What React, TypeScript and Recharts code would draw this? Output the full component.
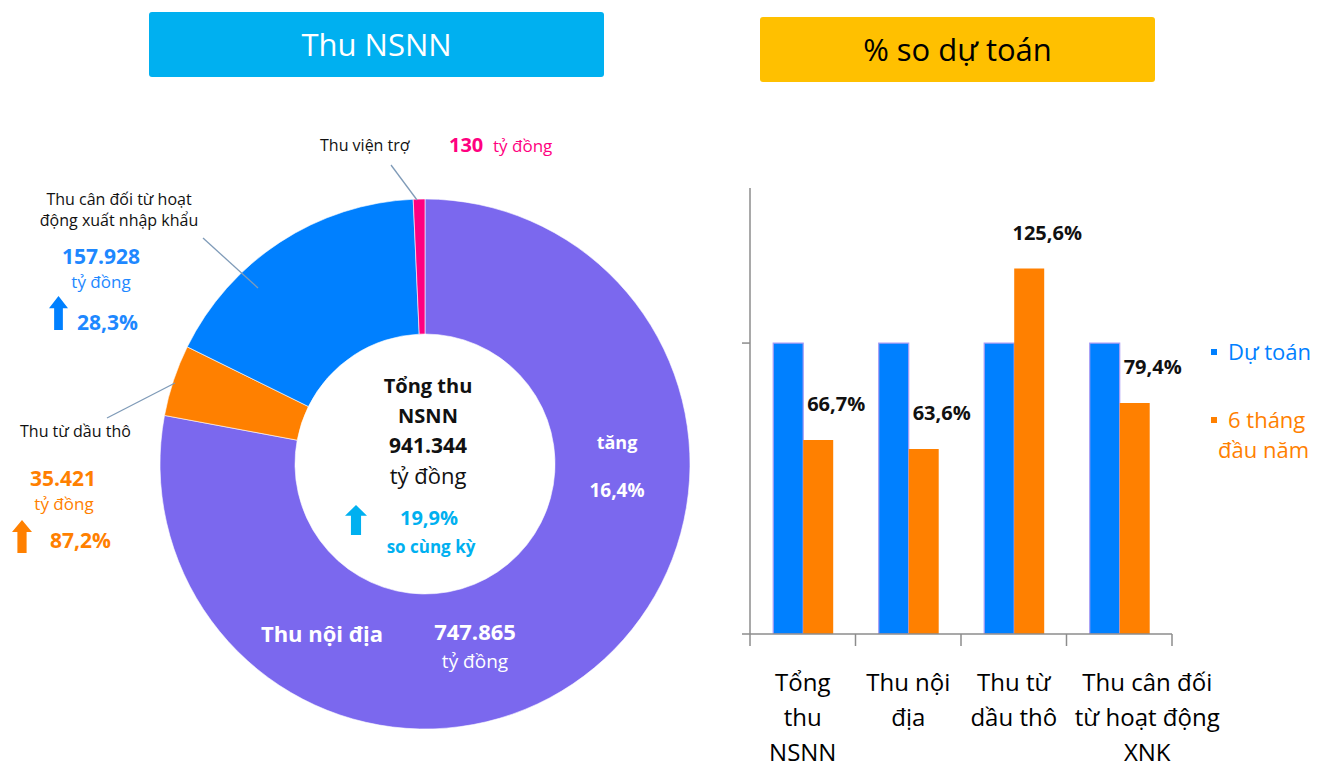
import React from "react";
import {
  PieChart,
  Pie,
  Cell,
  BarChart,
  Bar,
  XAxis,
  YAxis,
  LabelList,
} from "recharts";

// ---------- Data ----------
const SLICE_NAMES = [
  "Thu nội địa",
  "Thu từ dầu thô",
  "Thu cân đối từ hoạt động xuất nhập khẩu",
  "Thu viện trợ",
];
const SLICE_VALUES = [747865, 35421, 157928, 130];
const SLICE_COLORS = ["#7B68EE", "#FF8000", "#0080FF", "#FF0080"];

const BAR_CATEGORIES = [
  "Tổng thu NSNN",
  "Thu nội địa",
  "Thu từ dầu thô",
  "Thu cân đối từ hoạt động XNK",
];
const TICK_LINES = [
  ["Tổng", "thu", "NSNN"],
  ["Thu nội", "địa"],
  ["Thu từ", "dầu thô"],
  ["Thu cân đối", "từ hoạt động", "XNK"],
];
const DU_TOAN = [100, 100, 100, 100];
const SAU_THANG = [66.7, 63.6, 125.6, 79.4];
const SERIES_NAMES = ["Dự toán", "6 tháng\nđầu năm"];
const Y_TICKS = [0, 100];

// ---------- Styles ----------
const FONT = "'Open Sans', 'Noto Sans', sans-serif";
const BLUE = "#0080FF";
const ORANGE = "#FF8000";
const CYAN = "#00B0F0";
const PINK = "#FF0080";
const AXIS = "#8c8c8c";
const LEADER = "#7f9bb8";
const TICK_SHIFT = [0, 0, 0, 28];
const SERIES_COLORS = [BLUE, ORANGE];

const pieData = SLICE_NAMES.map((name, i) => ({
  name,
  value: SLICE_VALUES[i],
  color: SLICE_COLORS[i],
}));

const barData = BAR_CATEGORIES.map((name, i) => ({
  name,
  duToan: DU_TOAN[i],
  sauThang: SAU_THANG[i],
}));

const fmtPct = (v: number) => v.toFixed(1).replace(".", ",") + "%";

const BAR_LEFT = 750;
const BAR_RIGHT_EDGE = 1172;
const Y_AXIS_W = 10;
const HALF_BAND = (BAR_RIGHT_EDGE - BAR_LEFT) / BAR_CATEGORIES.length / 2;

function UpArrow({ x, y, w, h, color }: { x: number; y: number; w: number; h: number; color: string }) {
  const headH = h * 0.36;
  const sw = w * 0.46;
  const cx = x + w / 2;
  const d = `M ${cx} ${y} L ${x + w} ${y + headH} L ${cx + sw / 2} ${y + headH} L ${cx + sw / 2} ${y + h} L ${cx - sw / 2} ${y + h} L ${cx - sw / 2} ${y + headH} L ${x} ${y + headH} Z`;
  return <path d={d} fill={color} />;
}

const XTick = (props: any) => {
  const { x, y, payload, index } = props;
  const lines = TICK_LINES[index] || [payload.value];
  const shift = TICK_SHIFT[index] || 0;
  return (
    <g>
      <line x1={x - HALF_BAND} y1={y - 8} x2={x - HALF_BAND} y2={y + 4} stroke={AXIS} strokeWidth={1.5} />
      {index === BAR_CATEGORIES.length - 1 && (
        <line x1={x + HALF_BAND} y1={y - 8} x2={x + HALF_BAND} y2={y + 4} stroke={AXIS} strokeWidth={1.5} />
      )}
      <text x={x + shift} y={y + 49} textAnchor="middle" fontFamily={FONT} fontSize={24} fill="#000">
        {lines.map((l: string, i: number) => (
          <tspan key={i} x={x + shift} dy={i === 0 ? 0 : 35}>
            {l}
          </tspan>
        ))}
      </text>
    </g>
  );
};

const BarValueLabel = (props: any) => {
  const { x, y, width, value } = props;
  return (
    <text
      x={x + width / 2 + 18}
      y={y - 29}
      textAnchor="middle"
      fontFamily={FONT}
      fontSize={20}
      fontWeight={700}
      fill="#111"
    >
      {fmtPct(value)}
    </text>
  );
};

function SeriesLegend() {
  return (
    <div
      style={{
        position: "absolute",
        left: 1211,
        top: 336,
        fontFamily: FONT,
        fontSize: 22,
        lineHeight: "30px",
      }}
    >
      {SERIES_NAMES.map((name, i) => {
        const lines = name.split("\n");
        return (
          <div
            key={i}
            style={{ color: SERIES_COLORS[i], marginBottom: i === 0 ? 38 : 0, position: "relative", paddingLeft: 17 }}
          >
            <span
              style={{
                position: "absolute",
                left: 0,
                top: 13,
                width: 6,
                height: 6,
                background: SERIES_COLORS[i],
              }}
            />
            {lines.map((l, j) => (
              <div key={j} style={{ marginLeft: j > 0 ? -10 : 0 }}>
                {l}
              </div>
            ))}
          </div>
        );
      })}
    </div>
  );
}

export default function App() {
  return (
    <div
      style={{
        position: "absolute",
        left: 0,
        top: 0,
        width: 1330,
        height: 767,
        background: "#fff",
        overflow: "hidden",
        fontFamily: FONT,
      }}
    >
      {/* Headers */}
      <div
        style={{
          position: "absolute",
          left: 149,
          top: 12,
          width: 455,
          height: 65,
          background: CYAN,
          borderRadius: 3,
          color: "#fff",
          fontSize: 31,
          lineHeight: "65px",
          textAlign: "center",
        }}
      >
        Thu NSNN
      </div>
      <div
        style={{
          position: "absolute",
          left: 760,
          top: 17,
          width: 395,
          height: 65,
          background: "#FFC000",
          borderRadius: 3,
          color: "#000",
          fontSize: 31,
          lineHeight: "65px",
          textAlign: "center",
        }}
      >
        % so dự toán
      </div>

      {/* Donut */}
      <div style={{ position: "absolute", left: 0, top: 0 }}>
        <PieChart width={740} height={767} margin={{ top: 0, right: 0, bottom: 0, left: 0 }}>
          <Pie
            data={pieData}
            dataKey="value"
            nameKey="name"
            cx={425}
            cy={464}
            innerRadius={130}
            outerRadius={265}
            startAngle={90}
            endAngle={-270}
            minAngle={2.5}
            stroke="#fff"
            strokeWidth={0.6}
            isAnimationActive={false}
          >
            {pieData.map((d, i) => (
              <Cell key={i} fill={d.color} />
            ))}
          </Pie>
        </PieChart>
      </div>

      {/* Donut annotations */}
      <svg
        width={740}
        height={767}
        style={{ position: "absolute", left: 0, top: 0, pointerEvents: "none" }}
        fontFamily={FONT}
      >
        <line x1={391} y1={165} x2={417} y2={200} stroke={LEADER} strokeWidth={1.3} />
        <line x1={203} y1={238} x2={258} y2={288} stroke={LEADER} strokeWidth={1.3} />
        <line x1={107} y1={418} x2={175} y2={383} stroke={LEADER} strokeWidth={1.3} />

        <text x={320} y={151} fontSize={16} fill="#111">Thu viện trợ</text>
        <text x={449} y={152} fontSize={20} fontWeight={700} fill={PINK}>130</text>
        <text x={493} y={152} fontSize={17} fill={PINK}>tỷ đồng</text>

        <text x={119} y={205} fontSize={16} fill="#111" textAnchor="middle">Thu cân đối từ hoạt</text>
        <text x={119} y={226} fontSize={16} fill="#111" textAnchor="middle">động xuất nhập khẩu</text>
        <text x={101} y={264} fontSize={21} fontWeight={700} fill="#1E88FF" textAnchor="middle">157.928</text>
        <text x={101} y={288} fontSize={17} fill="#1E88FF" textAnchor="middle">tỷ đồng</text>
        <UpArrow x={49} y={296} w={19} h={34} color={BLUE} />
        <text x={77} y={330} fontSize={21} fontWeight={700} fill="#1E88FF">28,3%</text>

        <text x={20} y={437} fontSize={16} fill="#111">Thu từ dầu thô</text>
        <text x={63} y={486} fontSize={21} fontWeight={700} fill={ORANGE} textAnchor="middle">35.421</text>
        <text x={64} y={510} fontSize={17} fill={ORANGE} textAnchor="middle">tỷ đồng</text>
        <UpArrow x={12} y={520} w={20} h={33} color={ORANGE} />
        <text x={50} y={548} fontSize={21} fontWeight={700} fill={ORANGE}>87,2%</text>

        <text x={428} y={393} fontSize={20} fontWeight={700} fill="#111" textAnchor="middle">Tổng thu</text>
        <text x={428} y={423} fontSize={20} fontWeight={700} fill="#111" textAnchor="middle">NSNN</text>
        <text x={428} y={453} fontSize={21} fontWeight={700} fill="#111" textAnchor="middle">941.344</text>
        <text x={428} y={484} fontSize={22} fill="#111" textAnchor="middle">tỷ đồng</text>
        <UpArrow x={345} y={505} w={22} h={30} color={CYAN} />
        <text x={429} y={525} fontSize={20} fontWeight={700} fill={CYAN} textAnchor="middle">19,9%</text>
        <text x={431} y={553} fontSize={17} fontWeight={700} fill={CYAN} textAnchor="middle">so cùng kỳ</text>

        <text x={617} y={449} fontSize={18} fontWeight={700} fill="#fff" textAnchor="middle">tăng</text>
        <text x={617} y={497} fontSize={19} fontWeight={700} fill="#fff" textAnchor="middle">16,4%</text>
        <text x={322} y={642} fontSize={22} fontWeight={700} fill="#fff" textAnchor="middle">Thu nội địa</text>
        <text x={475} y={640} fontSize={22} fontWeight={700} fill="#fff" textAnchor="middle">747.865</text>
        <text x={475} y={668} fontSize={19} fill="#fff" textAnchor="middle">tỷ đồng</text>
      </svg>

      {/* Bar chart */}
      <div style={{ position: "absolute", left: 0, top: 0 }}>
        <BarChart
          width={1330}
          height={767}
          data={barData}
          margin={{ top: 188, right: 1330 - BAR_RIGHT_EDGE, bottom: 13, left: BAR_LEFT - Y_AXIS_W }}
          barCategoryGap="22%"
          barGap={0}
        >
          <XAxis
            dataKey="name"
            height={120}
            axisLine={{ stroke: AXIS, strokeWidth: 1.5 }}
            tickLine={false}
            tick={<XTick />}
            interval={0}
          />
          <YAxis
            width={Y_AXIS_W}
            domain={[0, 153.3]}
            ticks={Y_TICKS}
            tickSize={8}
            tickLine={{ stroke: AXIS, strokeWidth: 1.5 }}
            axisLine={{ stroke: AXIS, strokeWidth: 1.5 }}
            tickFormatter={() => ""}
            allowDataOverflow
          />
          <Bar
            dataKey="duToan"
            name={SERIES_NAMES[0]}
            fill={BLUE}
            stroke="#A99CF5"
            strokeWidth={1.2}
            isAnimationActive={false}
          />
          <Bar dataKey="sauThang" name={SERIES_NAMES[1]} fill={ORANGE} isAnimationActive={false}>
            <LabelList dataKey="sauThang" content={<BarValueLabel />} />
          </Bar>
        </BarChart>
      </div>

      <SeriesLegend />
    </div>
  );
}
